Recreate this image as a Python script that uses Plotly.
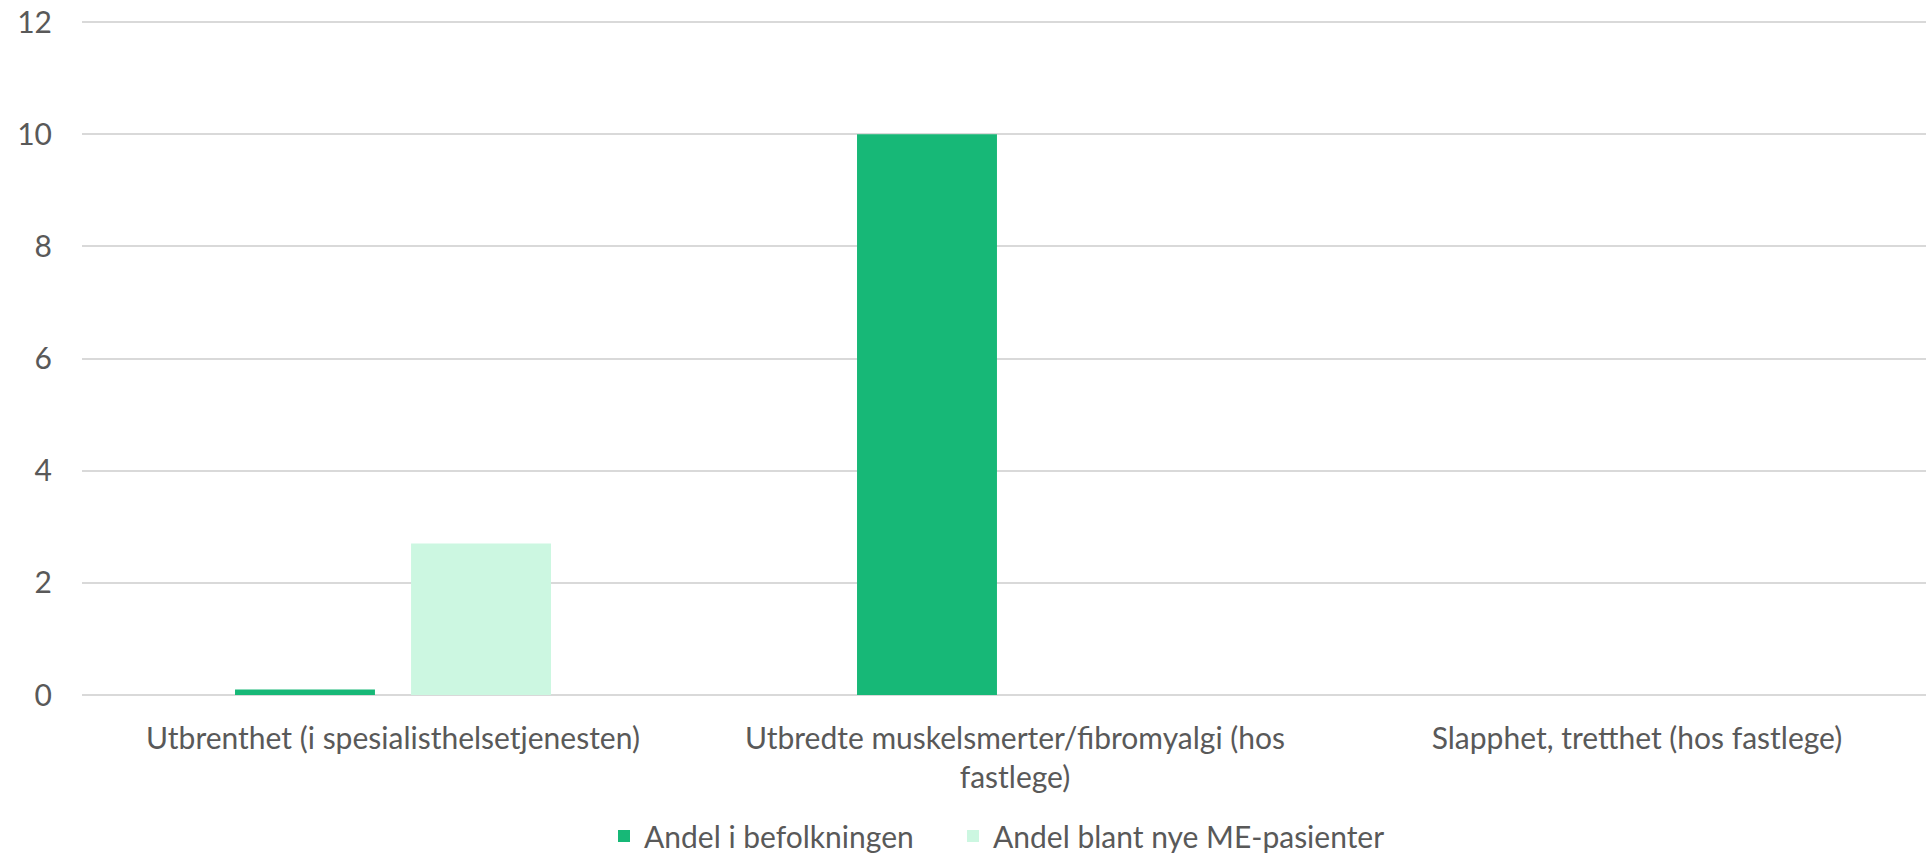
import plotly.graph_objects as go

categories = [
    "Utbrenthet (i spesialisthelsetjenesten)",
    "Utbredte muskelsmerter/fibromyalgi (hos fastlege)",
    "Slapphet, tretthet (hos fastlege)",
]
tick_labels = [
    "Utbrenthet (i spesialisthelsetjenesten)",
    "Utbredte muskelsmerter/fibromyalgi (hos<br>fastlege)",
    "Slapphet, tretthet (hos fastlege)",
]
series_names = ["Andel i befolkningen", "Andel blant nye ME-pasienter"]
andel_befolkningen = [0.1, 10, 0]
andel_me_pasienter = [2.7, 0, 0]
y_ticks = [0, 2, 4, 6, 8, 10, 12]

FONT = "Lato"
TXT = "#595959"
FS = 30

# plot area geometry (pixels)
L, T, B, W = 82, 21, 158, 1926
PW = W - L
PH = 853 - T - B


def px_x(p):
    return (p - L) / PW


def px_y(p):
    return (853 - B - p) / PH


fig = go.Figure()
fig.add_trace(go.Bar(x=categories, y=andel_befolkningen, name=series_names[0],
                     marker=dict(color="#17B877", line=dict(width=0)), legend="legend"))
fig.add_trace(go.Bar(x=categories, y=andel_me_pasienter, name=series_names[1],
                     marker=dict(color="#CCF7E1", line=dict(width=0)), legend="legend2"))

leg_common = dict(orientation="h", yanchor="middle", xanchor="left",
                  font=dict(family=FONT, size=FS, color=TXT), borderwidth=0,
                  bgcolor="rgba(0,0,0,0)")

fig.update_layout(
    width=W, height=853, autosize=False,
    margin=dict(l=L, r=0, t=T, b=B, pad=0, autoexpand=False),
    paper_bgcolor="white", plot_bgcolor="white",
    barmode="group", bargap=0.434, bargroupgap=0.205,
    font=dict(family=FONT, size=FS, color=TXT),
    showlegend=True,
    legend=dict(x=px_x(604), y=px_y(836), **leg_common),
    legend2=dict(x=px_x(953), y=px_y(836), **leg_common),
    xaxis=dict(type="category", range=[-0.5, 2.4646], tickmode="array",
               tickvals=categories, ticktext=tick_labels, showgrid=False,
               showline=False, ticks="", zeroline=False, automargin=False,
               ticklabelstandoff=23,
               tickfont=dict(family=FONT, size=FS, color=TXT)),
    yaxis=dict(range=[0, 12.02], tickmode="array", tickvals=y_ticks,
               showgrid=True, gridcolor="#D9D9D9", gridwidth=2,
               zeroline=True, zerolinecolor="#D9D9D9", zerolinewidth=2,
               showline=False, ticks="", ticklabelstandoff=29, automargin=False,
               tickfont=dict(family=FONT, size=FS, color=TXT)),
)
fig.write_html("out.html", config={"displayModeBar": False},
               post_script="document.body.style.margin='0px';document.body.style.overflow='hidden';")
